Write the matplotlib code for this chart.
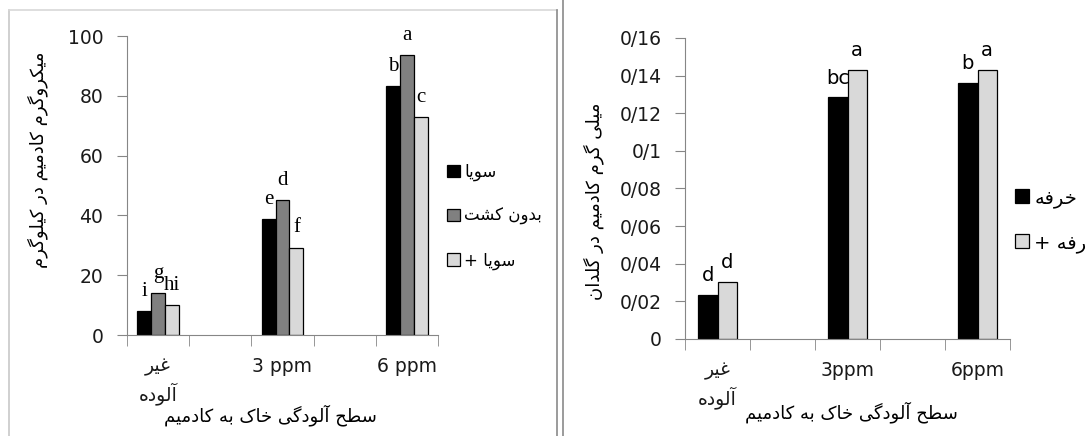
import matplotlib
matplotlib.use('Agg')
import matplotlib.pyplot as plt
from matplotlib.lines import Line2D
import numpy as np

plt.rcParams['font.family'] = ['DejaVu Sans']

# ---- data ----
cats1 = ['غیر\nآلوده', '', '3 ppm', '', '6 ppm']
series1 = ['سویا', 'بدون کشت', 'سویا +']
vals1 = [[8.1, 38.7, 83.2],      # سویا
         [13.9, 45.0, 93.6],     # بدون کشت
         [10.0, 29.2, 72.9]]     # سویا +
letters1 = [['i', 'e', 'b'],
            ['g', 'd', 'a'],
            ['hi', 'f', 'c']]
yticks1 = [0, 20, 40, 60, 80, 100]

cats2 = ['غیر\nآلوده', '', '3ppm', '', '6ppm']
series2 = ['خرفه', 'خرفه +']
vals2 = [[0.0232, 0.1284, 0.1361],
         [0.0305, 0.1432, 0.1432]]
letters2 = [['d', 'bc', 'b'],
            ['d', 'a', 'a']]
yticks2 = [0, 0.02, 0.04, 0.06, 0.08, 0.1, 0.12, 0.14, 0.16]
yticklabels2 = ['0', '0/02', '0/04', '0/06', '0/08', '0/1', '0/12', '0/14', '0/16']

ylabel1 = 'میکروگرم کادمیم در کیلوگرم'
ylabel2 = 'میلی گرم کادمیم در گلدان'
xlabel = 'سطح آلودگی خاک به کادمیم'

# ---- persian shaping (matplotlib has no bidi / joining) ----
DUAL = {'ب': (0xFE8F, 0xFE90, 0xFE91, 0xFE92), 'ت': (0xFE95, 0xFE96, 0xFE97, 0xFE98),
        'ح': (0xFEA1, 0xFEA2, 0xFEA3, 0xFEA4), 'خ': (0xFEA5, 0xFEA6, 0xFEA7, 0xFEA8),
        'س': (0xFEB1, 0xFEB2, 0xFEB3, 0xFEB4), 'ش': (0xFEB5, 0xFEB6, 0xFEB7, 0xFEB8),
        'ط': (0xFEC1, 0xFEC2, 0xFEC3, 0xFEC4), 'غ': (0xFECD, 0xFECE, 0xFECF, 0xFED0),
        'ف': (0xFED1, 0xFED2, 0xFED3, 0xFED4), 'ل': (0xFEDD, 0xFEDE, 0xFEDF, 0xFEE0),
        'م': (0xFEE1, 0xFEE2, 0xFEE3, 0xFEE4), 'ن': (0xFEE5, 0xFEE6, 0xFEE7, 0xFEE8),
        'ه': (0xFEE9, 0xFEEA, 0xFEEB, 0xFEEC), 'ی': (0xFBFC, 0xFBFD, 0xFBFE, 0xFBFF),
        'ک': (0xFB8E, 0xFB8F, 0xFB90, 0xFB91), 'گ': (0xFB92, 0xFB93, 0xFB94, 0xFB95)}
RIGHT = {'ا': (0xFE8D, 0xFE8E), 'آ': (0xFE81, 0xFE82), 'د': (0xFEA9, 0xFEAA),
         'ر': (0xFEAD, 0xFEAE), 'و': (0xFEED, 0xFEEE)}


def fa_line(s):
    out = []
    for i, c in enumerate(s):
        if c not in DUAL and c not in RIGHT:
            out.append(c)
            continue
        prev = s[i-1] if i > 0 else ''
        nxt = s[i+1] if i + 1 < len(s) else ''
        jp = prev in DUAL
        jn = c in DUAL and (nxt in DUAL or nxt in RIGHT)
        forms = DUAL.get(c) or RIGHT[c]
        if jp and jn:
            f = forms[3]
        elif jp:
            f = forms[1]
        elif jn:
            f = forms[2]
        else:
            f = forms[0]
        out.append(chr(f))
    return ''.join(out[::-1])


def fa(s):
    if not any(c in DUAL or c in RIGHT for c in s):
        return s
    return '\n'.join(fa_line(l) for l in s.split('\n'))


AX = '#868686'
TXT = '#1a1a1a'
W, H = 1085, 436

fig = plt.figure(figsize=(10.85, 4.36), dpi=100)
ax1 = fig.add_axes([127/W, 1-335/H, (438-127)/W, (335-36)/H])
ax2 = fig.add_axes([685/W, 1-339/H, (1010-685)/W, (339-38)/H])


def style(ax, cats):
    for s in ['top', 'right']:
        ax.spines[s].set_visible(False)
    for s in ['left', 'bottom']:
        ax.spines[s].set_color(AX)
    ax.set_xlim(-0.5, len(cats) - 0.5)
    x = np.arange(len(cats))
    ax.set_xticks(x[::2])
    ax.set_xticklabels([fa(c) for c in cats[::2]])
    ax.set_xticks(np.arange(len(cats) + 1) - 0.5, minor=True)
    ax.tick_params(axis='x', which='major', length=0, pad=16, labelsize=13.5, labelcolor=TXT)
    ax.tick_params(axis='x', which='minor', length=8, color=AX)
    ax.tick_params(axis='y', length=7, color=AX, labelsize=13.5, labelcolor=TXT, pad=10)
    for lab in ax.get_xticklabels():
        lab.set_linespacing(1.3)


# left chart
colors1 = ['black', '#808080', '#d9d9d9']
x1 = np.arange(len(cats1))[::2]
w1 = 0.225
for i in range(len(series1)):
    b = ax1.bar(x1 + (i - 1) * w1, vals1[i], w1, color=colors1[i], edgecolor='black',
                linewidth=0.9, label=fa(series1[i]))
    for rect, t in zip(b, letters1[i]):
        ax1.annotate(t, (rect.get_x() + rect.get_width()/2, rect.get_height()),
                     xytext=(0, 11), textcoords='offset points', ha='center', va='baseline',
                     fontsize=15, family='Liberation Serif', color='black')
ax1.set_ylim(0, 100)
ax1.set_yticks(yticks1)
style(ax1, cats1)
ax1.legend(loc='upper left', bbox_to_anchor=(447/W, 1-163/H), bbox_transform=fig.transFigure,
           frameon=False, fontsize=12, handlelength=0.75, handleheight=0.75,
           handletextpad=0.3, labelspacing=1.55, borderpad=0, borderaxespad=0)

# right chart
colors2 = ['black', '#d9d9d9']
x2 = np.arange(len(cats2))[::2]
w2 = 0.3
for i in range(len(series2)):
    b = ax2.bar(x2 + (i - 0.5) * w2, vals2[i], w2, color=colors2[i], edgecolor='black',
                linewidth=0.9, label=fa(series2[i]))
    for rect, t in zip(b, letters2[i]):
        ax2.annotate(t, (rect.get_x() + rect.get_width()/2, rect.get_height()),
                     xytext=(0, 10), textcoords='offset points', ha='center', va='baseline',
                     fontsize=14, color='black')
ax2.set_ylim(0, 0.16)
ax2.set_yticks(yticks2)
ax2.set_yticklabels(yticklabels2)
style(ax2, cats2)
ax2.legend(loc='upper left', bbox_to_anchor=(1015/W, 1-188/H), bbox_transform=fig.transFigure,
           frameon=False, fontsize=14, handlelength=0.7, handleheight=0.7,
           handletextpad=0.3, labelspacing=1.3, borderpad=0, borderaxespad=0)

# axis titles
fig.text(38/W, 1-160/H, fa(ylabel1), rotation=90, ha='center', va='center', fontsize=13, color='black')
fig.text(594/W, 1-201/H, fa(ylabel2), rotation=90, ha='center', va='center', fontsize=13, color='black')
fig.text(270/W, 1-415/H, fa(xlabel), ha='center', va='center', fontsize=13, color='black')
fig.text(851/W, 1-412/H, fa(xlabel), ha='center', va='center', fontsize=13, color='black')

# panel borders
for (xa, ya, xb, yb, c) in [(9, 10, 9, 436, '#c8c8c8'), (9, 10, 557, 10, '#d8d8d8'),
                            (557, 10, 557, 436, '#8a8a8a'), (563, 0, 563, 436, '#8a8a8a')]:
    fig.add_artist(Line2D([xa/W, xb/W], [1-ya/H, 1-yb/H], transform=fig.transFigure,
                          color=c, linewidth=1.2))

fig.savefig('out.png', dpi=100)
